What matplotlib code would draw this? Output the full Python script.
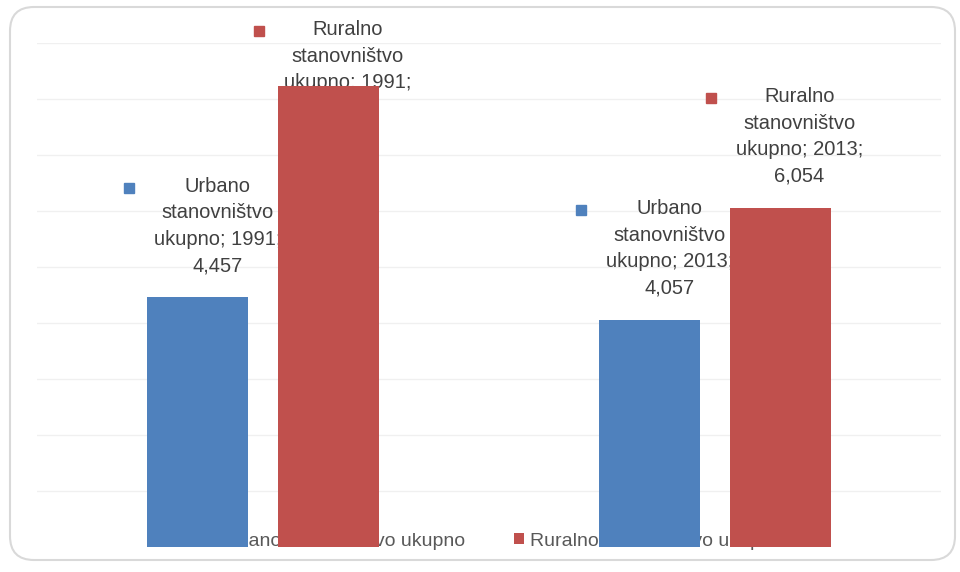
import matplotlib
matplotlib.use("Agg")
import matplotlib.pyplot as plt
from matplotlib.patches import FancyBboxPatch
import numpy as np

years = ["1991", "2013"]
series_names = ["Urbano stanovništvo ukupno", "Ruralno stanovništvo ukupno"]
urban = [4457, 4057]
rural = [8236, 6054]
colors = ["#4F81BD", "#C0504D"]

plt.rcParams['font.family'] = ['Liberation Sans', 'DejaVu Sans']
TXT = "#404040"

fig = plt.figure(figsize=(9.6, 5.72), dpi=100)
fig.patch.set_facecolor("white")

# rounded chart border
border = FancyBboxPatch((10/960, 12/572), 945/960, 553/572,
                        boxstyle="round,pad=0,rounding_size=0.025",
                        transform=fig.transFigure, facecolor="none",
                        edgecolor="#D9D9D9", linewidth=1.5, zorder=-1,
                        mutation_aspect=960/572)
fig.patches.append(border)

ax = fig.add_axes([37/960, 25/572, 904/960, 504/572])
ax.set_facecolor("none")
ax.set_xlim(-0.5, 1.5)
ax.set_ylim(0, 9000)
for s in ax.spines.values():
    s.set_visible(False)
ax.set_xticks([])
ax.set_yticks(np.arange(1000, 9001, 1000))
ax.tick_params(axis='y', length=0, labelleft=False)
ax.grid(axis='y', color="#F0F0F0", linewidth=1, zorder=0)
ax.set_axisbelow(True)

x = np.arange(len(years))
width = 0.2235
offset = 0.144
series = [urban, rural]
for i, (vals, name, c) in enumerate(zip(series, series_names, colors)):
    ax.bar(x + (i * 2 - 1) * offset, vals, width, color=c, label=name, zorder=3)

leg = ax.legend(loc='center', bbox_to_anchor=(492/960, 31/572),
                bbox_transform=fig.transFigure, ncol=2,
                frameon=False, fontsize=14, handlelength=0.5, handleheight=0.5,
                columnspacing=2.5, handletextpad=0.3, labelcolor="#595959")
leg.set_zorder(1)

# data labels
fig.canvas.draw()
renderer = fig.canvas.get_renderer()
short = ["Urbano", "Ruralno"]
for i, (vals, name, c) in enumerate(zip(series, series_names, colors)):
    for j, v in enumerate(vals):
        bx = x[j] + (i * 2 - 1) * offset
        txt = f"{short[i]}\nstanovništvo\nukupno; {years[j]};\n{v:,}"
        dx, dy = 14, 16
        t = ax.annotate(txt, xy=(bx, v), xytext=(dx, dy), textcoords='offset points',
                        ha='center', va='bottom', fontsize=14.5, color=TXT,
                        linespacing=1.5, zorder=2, annotation_clip=False)
        bb = t.get_window_extent(renderer)
        top_limit = 572 - 20
        if bb.y1 > top_limit:
            shift = (bb.y1 - top_limit) * 72 / 100
            t.set_position((dx, dy - shift))
            bb = t.get_window_extent(renderer)
        sq_x = bb.x0 - 30
        sq_y = bb.y1 - 16
        fig.patches.append(plt.Rectangle((sq_x / 960, sq_y / 572), 10 / 960, 10 / 572,
                                         transform=fig.transFigure, color=c, zorder=2))

fig.savefig("out.png", dpi=100, facecolor="white")
